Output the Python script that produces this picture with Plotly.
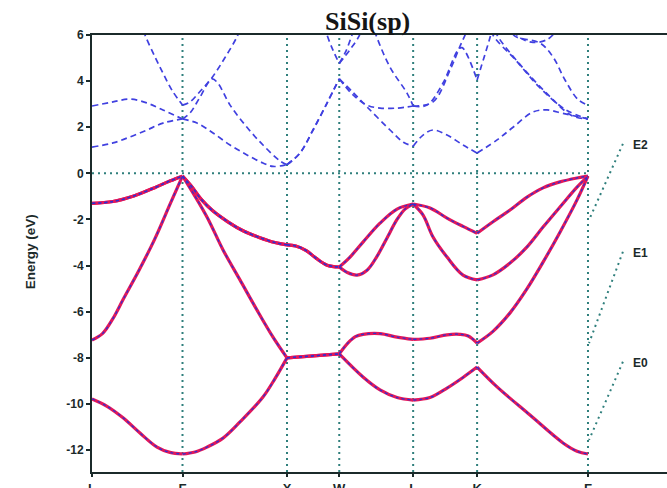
import plotly.graph_objects as go

# ---------------- data ----------------
KPTS = [0.0, 0.866, 1.866, 2.366, 3.073, 3.685, 4.746]
KLABELS = ["L", "Γ", "X", "W", "L", "K", "Γ"]
YTICKS = [6, 4, 2, 0, -2, -4, -6, -8, -10, -12]
TITLE = "SiSi(sp)"
YTITLE = "Energy (eV)"

# valence bands (solid)
VB1_K = [0, 0.144, 0.297, 0.459, 0.622, 0.746, 0.866, 0.986, 1.100, 1.254, 1.416, 1.636, 1.751, 1.866,
         2.366, 2.593, 2.756, 2.919, 3.073, 3.234, 3.397, 3.550, 3.685, 3.876, 4.191, 4.507, 4.641, 4.746]
VB1_E = [-9.78, -10.1, -10.6, -11.26, -11.87, -12.1, -12.17, -12.08, -11.87, -11.48, -10.78, -9.7, -8.9, -8.0,
         -7.83, -8.83, -9.39, -9.72, -9.83, -9.72, -9.31, -8.85, -8.4, -9.26, -10.48, -11.69, -12.05, -12.17]

VB2_K = [0, 0.1, 0.2, 0.3, 0.45, 0.6, 0.75, 0.866, 0.909, 1.100, 1.254, 1.416, 1.579, 1.732, 1.866,
         2.366, 2.45, 2.52, 2.593, 2.756, 2.919, 3.073, 3.234, 3.397, 3.52, 3.60, 3.685,
         3.837, 4.0, 4.163, 4.316, 4.478, 4.641, 4.746]
VB2_E = [-7.23, -6.95, -6.3, -5.45, -4.2, -2.85, -1.3, -0.12, -0.42, -1.89, -3.32, -4.62, -5.93, -7.1, -8.0,
         -7.83, -7.35, -7.08, -6.98, -6.95, -7.1, -7.2, -7.15, -7.0, -6.98, -7.05, -7.36,
         -6.85, -6.05, -5.0, -3.85, -2.55, -1.15, -0.12]

VB3_K = [0, 0.2, 0.4, 0.6, 0.75, 0.866, 0.95, 1.05, 1.15, 1.3, 1.45, 1.6, 1.75, 1.866,
         1.95, 2.05, 2.15, 2.25, 2.366, 2.443, 2.536, 2.632, 2.727, 2.823, 2.919, 2.995, 3.073,
         3.168, 3.263, 3.397, 3.550, 3.685, 3.837, 4.0, 4.163, 4.316, 4.478, 4.641, 4.746]
VB3_E = [-1.3, -1.22, -0.98, -0.62, -0.32, -0.12, -0.55, -1.15, -1.6, -2.1, -2.5, -2.78, -3.0, -3.1,
         -3.15, -3.35, -3.7, -3.98, -4.06, -4.3, -4.41, -4.2, -3.6, -2.8, -2.0, -1.55, -1.33,
         -1.81, -2.76, -3.63, -4.41, -4.62, -4.4, -3.89, -3.19, -2.33, -1.46, -0.6, -0.12]

VB4_K = [0, 0.2, 0.4, 0.6, 0.75, 0.866, 0.95, 1.05, 1.15, 1.3, 1.45, 1.6, 1.75, 1.866,
         1.95, 2.05, 2.15, 2.25, 2.366, 2.469, 2.593, 2.756, 2.919, 3.073,
         3.234, 3.397, 3.55, 3.685, 3.837, 4.0, 4.163, 4.316, 4.478, 4.641, 4.746]
VB4_E = [-1.3, -1.22, -0.98, -0.62, -0.32, -0.12, -0.55, -1.15, -1.6, -2.1, -2.5, -2.78, -3.0, -3.1,
         -3.15, -3.35, -3.7, -3.98, -4.06, -3.63, -2.98, -2.16, -1.55, -1.33,
         -1.5, -1.94, -2.3, -2.6, -2.1, -1.59, -1.03, -0.63, -0.37, -0.2, -0.12]

# conduction bands (dashed)
CB1_K = [0, 0.201, 0.364, 0.526, 0.679, 0.866, 1.005, 1.158, 1.321, 1.483, 1.636, 1.732, 1.866,
         1.990, 2.115, 2.249, 2.366, 2.5, 2.632, 2.852, 2.98, 3.073,
         3.168, 3.263, 3.397, 3.550, 3.685, 3.876, 4.029, 4.220, 4.354, 4.507, 4.746]
CB1_E = [1.14, 1.32, 1.58, 1.88, 2.18, 2.36, 2.18, 1.75, 1.23, 0.8, 0.45, 0.3, 0.38,
         0.88, 1.88, 3.05, 4.1, 3.5, 2.88, 1.88, 1.35, 1.18,
         1.66, 1.88, 1.66, 1.23, 0.88, 1.45, 2.0, 2.66, 2.75, 2.6, 2.36]

CB2_K = [0, 0.201, 0.364, 0.526, 0.679, 0.866, 0.938, 1.033, 1.148, 1.206, 1.321, 1.483, 1.636, 1.799, 1.866,
         1.990, 2.115, 2.249, 2.366, 2.498, 2.632, 2.756, 2.919, 3.073,
         3.206, 3.359, 3.502, 3.541, 3.685, 3.809, 3.85]
CB2_E = [2.92, 3.1, 3.22, 3.05, 2.75, 2.36, 2.62, 3.3, 4.1, 3.9, 2.96, 2.0, 1.23, 0.54, 0.38,
         0.88, 1.88, 3.05, 4.1, 3.4, 2.96, 2.83, 2.83, 2.92,
         2.96, 3.92, 5.35, 5.45, 4.05, 5.9, 6.6]

CB3_K = [0.46, 0.507, 0.603, 0.679, 0.766, 0.866, 0.938, 1.033, 1.148, 1.27, 1.385, 1.45]
CB3_E = [6.6, 6.0, 5.05, 4.35, 3.6, 2.96, 3.1, 3.55, 4.15, 5.0, 5.9, 6.6]

CB4_K = [2.20, 2.249, 2.31, 2.366, 2.466, 2.555, 2.60]
CB4_E = [6.8, 6.0, 5.3, 4.77, 5.35, 5.95, 6.5]

CB5_K = [2.366, 2.43, 2.488, 2.53]
CB5_E = [4.77, 5.3, 6.0, 6.5]

CB6_K = [2.68, 2.718, 2.852, 3.014, 3.073, 3.263, 3.426, 3.52, 3.57, 3.62]
CB6_E = [6.6, 6.0, 4.6, 3.48, 2.92, 3.1, 4.48, 5.5, 6.0, 6.6]

CB7_K = [3.80, 3.837, 4.057, 4.278, 4.536, 4.746]
CB7_E = [6.6, 6.0, 4.9, 3.75, 2.75, 2.36]

CB8_K = [3.83, 3.876, 4.086, 4.344, 4.593, 4.746]
CB8_E = [6.6, 6.0, 4.77, 3.5, 2.5, 2.36]

CB9_K = [3.98, 4.047, 4.287, 4.411, 4.526, 4.651, 4.746]
CB9_E = [6.4, 5.95, 5.65, 5.05, 4.05, 3.2, 2.96]

CB10_K = [4.0, 4.076, 4.22, 4.354, 4.45]
CB10_E = [6.6, 5.95, 5.68, 5.8, 6.2]

VALENCE = [(VB1_K, VB1_E), (VB2_K, VB2_E), (VB3_K, VB3_E), (VB4_K, VB4_E)]
CONDUCTION = [(CB1_K, CB1_E), (CB2_K, CB2_E), (CB3_K, CB3_E), (CB4_K, CB4_E), (CB5_K, CB5_E),
              (CB6_K, CB6_E), (CB7_K, CB7_E), (CB8_K, CB8_E), (CB9_K, CB9_E), (CB10_K, CB10_E)]

LABEL_TEXT = ["E2", "E1", "E0"]
LABEL_E = [1.23, -3.45, -8.22]
LEADER_END_E = [-2.02, -7.36, -11.56]

# ---------------- styling ----------------
X_RANGE = [0, 5.502]
Y_RANGE = [-12.95, 6]
RED = "#e3175a"
BLUE_V = "#3030d0"
BLUE_C = "#4040e0"
TEAL = "#2f7f7c"
DARK = "#1b2a2a"


def segments(ks, es):
    segs = []
    ck, ce = [ks[0]], [es[0]]
    for k, e in zip(ks[1:], es[1:]):
        ck.append(k)
        ce.append(e)
        if any(abs(k - s) < 1e-6 for s in KPTS):
            segs.append((ck, ce))
            ck, ce = [k], [e]
    if len(ck) > 1:
        segs.append((ck, ce))
    return segs


fig = go.Figure()

for ks, es in CONDUCTION:
    for sk, se in segments(ks, es):
        fig.add_trace(go.Scatter(x=sk, y=se, mode="lines", line_shape="spline",
                                 line=dict(color=BLUE_C, width=1.7, dash="6px,4px"),
                                 hoverinfo="skip", showlegend=False))

for ks, es in VALENCE:
    for sk, se in segments(ks, es):
        fig.add_trace(go.Scatter(x=sk, y=se, mode="lines", line_shape="spline",
                                 line=dict(color=RED, width=3.2),
                                 hoverinfo="skip", showlegend=False))
for ks, es in VALENCE:
    for sk, se in segments(ks, es):
        fig.add_trace(go.Scatter(x=sk, y=se, mode="lines", line_shape="spline",
                                 line=dict(color=BLUE_V, width=1.3, dash="3px,3px"),
                                 hoverinfo="skip", showlegend=False))

shapes = []
for k in KPTS[1:]:
    shapes.append(dict(type="line", xref="x", yref="paper", x0=k, x1=k, y0=0, y1=1,
                       line=dict(color=TEAL, width=2, dash="2px,4px"), layer="below"))
shapes.append(dict(type="line", xref="x", yref="y", x0=KPTS[0], x1=KPTS[-1], y0=0, y1=0,
                   line=dict(color=TEAL, width=2, dash="2px,4px"), layer="below"))

annotations = []
for txt, ye, yend in zip(LABEL_TEXT, LABEL_E, LEADER_END_E):
    shapes.append(dict(type="line", xref="x", yref="y", x0=5.08, x1=KPTS[-1] + 0.01,
                       y0=ye + 0.05, y1=yend,
                       line=dict(color=TEAL, width=2, dash="2px,4px")))
    annotations.append(dict(x=5.16, y=ye, xref="x", yref="y", text=txt, showarrow=False,
                            xanchor="left", yanchor="middle",
                            font=dict(family="Liberation Sans, Arial", size=12, color=DARK, weight="bold")))

annotations.append(dict(x=(367 - 92) / 575, y=(472 - 21) / 437, xref="paper", yref="paper", text=TITLE,
                        showarrow=False, xanchor="center", yanchor="middle",
                        font=dict(family="Liberation Serif, Times New Roman", size=26, color="#151515",
                                  weight="bold")))
annotations.append(dict(x=-(92 - 30) / 575, y=0.503, xref="paper", yref="paper", text=YTITLE,
                        showarrow=False, textangle=-90, xanchor="center", yanchor="middle",
                        font=dict(family="Liberation Sans, Arial", size=13.5, color=DARK, weight="bold")))

fig.update_layout(
    width=667, height=488,
    margin=dict(l=92, r=0, t=35, b=16, autoexpand=False),
    paper_bgcolor="white", plot_bgcolor="white",
    showlegend=False,
    shapes=shapes, annotations=annotations,
    xaxis=dict(range=X_RANGE, tickvals=KPTS, ticktext=KLABELS, showgrid=False, zeroline=False,
               automargin=False,
               showline=True, linecolor=DARK, linewidth=2, mirror=True,
               ticks="outside", ticklen=3, tickwidth=2, tickcolor=DARK,
               tickfont=dict(family="Liberation Sans, Arial", size=13, color=DARK, weight="bold")),
    yaxis=dict(range=Y_RANGE, tickvals=YTICKS, ticktext=[str(v) for v in YTICKS],
               showgrid=False, zeroline=False, automargin=False,
               showline=True, linecolor=DARK, linewidth=2,
               ticks="outside", ticklen=4, tickwidth=2, tickcolor=DARK,
               tickfont=dict(family="Liberation Sans, Arial", size=12, color=DARK, weight="bold")),
)

fig.write_html("out.html", config={"displayModeBar": False},
               post_script="document.body.style.margin='0px';")
